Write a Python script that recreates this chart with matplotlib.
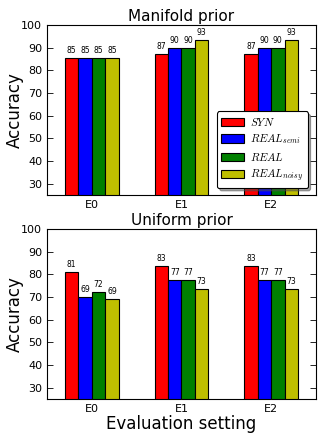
import matplotlib
matplotlib.use("Agg")
import matplotlib.pyplot as plt
import numpy as np

settings = ["E0", "E1", "E2"]
series = [r"$SYN$", r"$REAL_{semi}$", r"$REAL$", r"$REAL_{noisy}$"]
colors = ["#ff0000", "#0000ff", "#008000", "#bfbf00"]

manifold = [
    [85.2, 87.3, 87.3],   # SYN
    [85.2, 90.0, 90.0],   # REAL_semi
    [85.2, 90.0, 90.0],   # REAL
    [85.4, 93.5, 93.5],   # REAL_noisy
]
uniform = [
    [81.2, 83.5, 83.5],
    [69.8, 77.3, 77.3],
    [72.0, 77.3, 77.3],
    [69.0, 73.3, 73.3],
]

plt.rcParams["mathtext.fontset"] = "cm"

fig = plt.figure(figsize=(3.27, 4.36), dpi=100)
ax_top = fig.add_axes([0.144, 0.553, 0.822, 0.390])
ax_bot = fig.add_axes([0.144, 0.085, 0.822, 0.390])

width = 0.15
x = np.arange(len(settings))


def draw(ax, data, title):
    for i, (vals, c, lab) in enumerate(zip(data, colors, series)):
        pos = x - 0.3 + i * width
        bars = ax.bar(pos, vals, width, color=c, edgecolor="black",
                      linewidth=0.8, align="edge", label=lab)
        for b, v in zip(bars, vals):
            ax.text(b.get_x() + b.get_width() / 2, v + 1.3, "%d" % int(v),
                    ha="center", va="bottom", fontsize=5.5)
    ax.set_xlim(-0.5, 2.5)
    ax.set_ylim(25, 100)
    ax.set_yticks(range(30, 101, 10))
    ax.set_xticks(x)
    ax.set_xticklabels(settings)
    ax.tick_params(direction="in", top=True, right=True, labelsize=8,
                   length=4, width=0.6)
    ax.tick_params(axis="x", top=False)
    ax.set_ylabel("Accuracy", fontsize=12)
    ax.yaxis.set_label_coords(-0.088, 0.5)
    ax.set_title(title, fontsize=11, pad=3)
    for s in ax.spines.values():
        s.set_linewidth(0.8)


draw(ax_top, manifold, "Manifold prior")
draw(ax_bot, uniform, "Uniform prior")
ax_bot.set_xlabel("Evaluation setting", fontsize=12, labelpad=1)

leg = ax_top.legend(loc="lower right", bbox_to_anchor=(0.97, 0.04),
                    fontsize=8, fancybox=True, shadow=True, framealpha=1,
                    edgecolor="black", handlelength=2.0, handleheight=0.8,
                    borderpad=0.4, labelspacing=0.4, handletextpad=0.6,
                    borderaxespad=0)
leg.get_frame().set_linewidth(0.8)

fig.savefig("out.png", dpi=100)
